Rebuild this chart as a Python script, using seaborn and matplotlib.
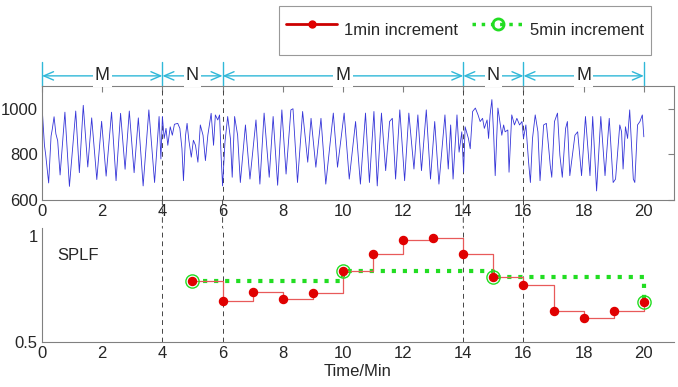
import numpy as np
import pandas as pd
import matplotlib
matplotlib.use('Agg')
import matplotlib.pyplot as plt
import matplotlib.transforms as mtransforms
from matplotlib.lines import Line2D
from matplotlib.patches import ConnectionPatch
import seaborn as sns

# 상단 신호 (피크/골 위치를 그림에서 읽음)
sig_t = [0.00, 0.08, 0.12, 0.22, 0.30, 0.34, 0.40, 0.46, 0.52, 0.60, 0.76, 0.91, 1.12, 1.24, 1.37, 1.52, 1.65, 1.82,
         1.98, 2.13, 2.31, 2.46, 2.61, 2.76, 2.90, 3.06, 3.20, 3.36, 3.55, 3.74, 3.89, 3.95, 4.00,
         4.06, 4.12, 4.18, 4.26, 4.33, 4.40, 4.51, 4.58, 4.65, 4.70, 4.77, 4.82, 4.88, 4.96, 5.03, 5.10, 5.18,
         5.26, 5.35, 5.43, 5.51, 5.62, 5.70, 5.76, 5.84, 5.90, 5.95, 6.00,
         6.08, 6.17, 6.26, 6.32, 6.40, 6.50, 6.59, 6.76, 6.91, 7.11, 7.24, 7.38, 7.55, 7.68, 7.83, 7.97, 8.11,
         8.27, 8.34, 8.49, 8.66, 8.83, 8.94, 9.10, 9.27, 9.43, 9.68, 9.82, 10.04, 10.21,
         10.42, 10.58, 10.75, 10.88, 11.03, 11.14, 11.28, 11.42, 11.55, 11.64, 11.75, 11.89, 12.05, 12.19, 12.36,
         12.49, 12.61, 12.77, 12.91, 13.05, 13.19, 13.39, 13.50, 13.58, 13.66, 13.79, 13.86, 13.95, 14.01,
         14.06, 14.17, 14.23, 14.31, 14.40, 14.49, 14.56, 14.64, 14.70, 14.79, 14.84, 14.89, 14.95, 15.01, 15.06,
         15.15, 15.23, 15.28, 15.34, 15.39, 15.48, 15.52, 15.61, 15.70, 15.78, 15.87, 15.95, 16.00, 16.08, 16.17,
         16.23, 16.30, 16.39, 16.48, 16.55, 16.67, 16.76, 16.83, 16.89, 16.94, 17.03,
         17.13, 17.21, 17.29, 17.40, 17.46, 17.54, 17.71, 17.80, 17.93, 18.06, 18.21, 18.30, 18.43, 18.57, 18.71,
         18.85, 18.98, 19.06, 19.20, 19.26, 19.31, 19.39, 19.46, 19.53, 19.65, 19.70, 19.79, 19.87, 19.95, 20.00]
sig_v = [1010, 840, 800, 675, 880, 910, 965, 890, 860, 710, 985, 660, 990, 720, 1015, 745, 960, 690,
         945, 705, 985, 685, 980, 735, 990, 720, 960, 662, 995, 677, 966, 780, 966,
         870, 914, 840, 921, 884, 932, 936, 914, 825, 685, 884, 936, 862, 788, 862, 840, 766,
         929, 884, 773, 884, 980, 840, 973, 951, 973, 796, 662,
         855, 966, 870, 700, 966, 884, 677, 929, 692, 951, 670, 981, 700, 966, 665, 995, 714,
         995, 1000, 677, 988, 766, 958, 744, 958, 670, 981, 744, 981, 692,
         944, 670, 981, 677, 988, 662, 981, 729, 944, 958, 692, 995, 685, 981, 736,
         973, 729, 995, 692, 944, 670, 973, 736, 929, 692, 973, 810, 899, 722,
         921, 870, 825, 988, 1003, 973, 944, 958, 914, 951, 870, 973, 1040, 884, 707,
         1003, 929, 884, 929, 899, 907, 722, 973, 929, 958, 929, 944, 870, 929, 766,
         677, 870, 973, 899, 685, 929, 936, 840, 751, 700, 944,
         981, 796, 700, 914, 944, 707, 884, 899, 707, 966, 707, 966, 640, 966, 707,
         958, 677, 692, 929, 899, 736, 921, 870, 995, 692, 677, 929, 944, 973, 877]

# 하단 SPLF
t1 = [5, 6, 7, 8, 9, 10, 11, 12, 13, 14, 15, 16, 17, 18, 19, 20]
v1 = [0.79, 0.695, 0.739, 0.706, 0.734, 0.836, 0.918, 0.981, 0.994, 0.918, 0.808, 0.770, 0.646, 0.612, 0.646, 0.690]
t5 = [5, 10, 15, 20]
v5 = [0.79, 0.836, 0.808, 0.690]

bounds = [0, 4, 6, 14, 16, 20]
seg_labels = ['M', 'N', 'M', 'N', 'M']
xticks = list(range(0, 21, 2))

sns.set_style('white')
plt.rcParams['font.family'] = ['Liberation Sans', 'DejaVu Sans']

grey = '#808080'
cyan = '#30b8d8'
red_line = '#e85a5a'
red_dot = '#e00000'
green = '#22dd22'

fig = plt.figure(figsize=(6.78, 3.87), dpi=100)
ax1 = fig.add_axes([0.062, 0.483, 0.932, 0.295])
ax2 = fig.add_axes([0.062, 0.116, 0.932, 0.295])

sns.lineplot(x=sig_t, y=sig_v, ax=ax1, color='#3535d8', lw=0.6, estimator=None)

sns.lineplot(x=t1, y=v1, ax=ax2, color=red_line, lw=0.9, drawstyle='steps-post',
             estimator=None, zorder=3)
sns.lineplot(x=t5, y=v5, ax=ax2, color=green, lw=3, ls=':', drawstyle='steps-post',
             estimator=None, zorder=2)
ax2.plot(t5, v5, ls='none', marker='o', ms=9.5, mfc='none', mec=green, mew=1.0, zorder=4)
ax2.plot(t1, v1, ls='none', marker='o', ms=5.8, mfc=red_dot, mec=red_dot, zorder=5)

for ax in (ax1, ax2):
    ax.set_xlim(0, 21)
    ax.set_xticks(xticks)
    ax.set_xticklabels([str(v) for v in xticks])
    for s in ax.spines.values():
        s.set_color(grey)
        s.set_linewidth(0.8)
    ax.set_xlabel('')
    ax.set_ylabel('')

ax1.set_ylim(600, 1100)
ax1.set_yticks([600, 800, 1000])
ax1.tick_params(direction='in', top=True, right=True, length=4, color=grey,
                labelsize=12, pad=3)

ax2.set_ylim(0.5, 1.04)
ax2.set_yticks([0.5, 1])
ax2.set_yticklabels(['0.5', '1'])
ax2.spines['top'].set_visible(False)
ax2.spines['right'].set_visible(False)
ax2.tick_params(direction='in', length=4, color=grey, labelsize=12, pad=3)
ax2.set_xlabel('Time/Min', fontsize=12, labelpad=2)
ax2.text(0.5, 0.91, 'SPLF', fontsize=12, va='center', ha='left')

# 경계 점선
for b in bounds[1:-1]:
    ax1.axvline(b, color='#444444', ls=(0, (5, 4)), lw=0.7, zorder=1)
    ax2.axvline(b, color='#444444', ls=(0, (5, 4)), lw=0.7, zorder=1)
    con = ConnectionPatch(xyA=(b, 600), coordsA='data', axesA=ax1,
                          xyB=(b, 1.04), coordsB='data', axesB=ax2,
                          color='#444444', ls=(0, (5, 4)), lw=0.7)
    fig.add_artist(con)

# 상단 구간 표시
trans = mtransforms.blended_transform_factory(ax1.transData, ax1.transAxes)
for b in bounds:
    ax1.plot([b, b], [1.0, 1.21], color=cyan, lw=1, transform=trans, clip_on=False)
for i, lab in enumerate(seg_labels):
    x0, x1 = bounds[i], bounds[i + 1]
    ax1.annotate('', xy=(x1, 1.088), xytext=(x0, 1.088), xycoords=trans, textcoords=trans,
                 arrowprops=dict(arrowstyle='<->,head_length=0.7,head_width=0.3', color=cyan,
                                 lw=1, shrinkA=0, shrinkB=0),
                 annotation_clip=False)
    ax1.text((x0 + x1) / 2, 1.088, lab, transform=trans, ha='center', va='center',
             fontsize=13, bbox=dict(fc='white', ec='none', pad=1.5), zorder=6)

# 범례
handles = [Line2D([], [], color='#cc0000', lw=2, marker='o', ms=5, mfc=red_dot, mec=red_dot),
           Line2D([], [], color=green, lw=2.5, ls=':', marker='o', ms=8, mfc='none', mec=green, mew=2)]
leg = fig.legend(handles, ['1min increment', '5min increment'], loc='center',
                 bbox_to_anchor=(0.686, 0.921), ncol=2, frameon=True, fancybox=False,
                 edgecolor=grey, handlelength=3.1, handletextpad=0.42, columnspacing=0.8,
                 handleheight=2.9, borderpad=0.4, fontsize=12)
leg.get_frame().set_linewidth(0.8)

fig.savefig('out.png', dpi=100)
